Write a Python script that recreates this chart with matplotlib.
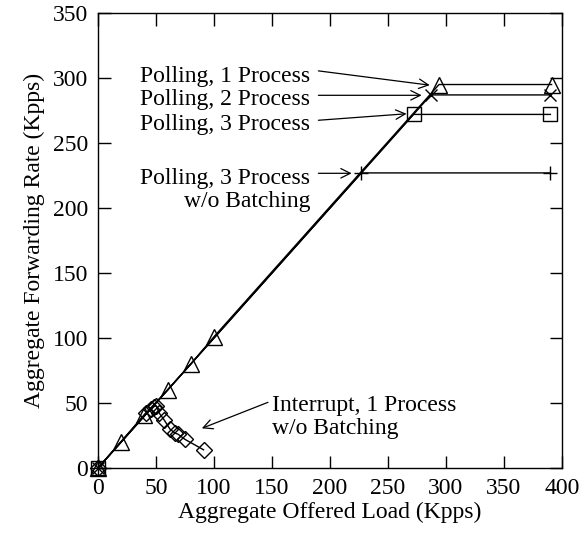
import matplotlib
matplotlib.use("Agg")
import matplotlib.pyplot as plt

# offered load vs forwarding rate (Kpps)
poll1_x = [0, 20, 40, 60, 80, 100, 294, 391]
poll1_y = [0, 20, 41, 60, 80, 101, 295, 295]

poll2_x = [0, 287, 390]
poll2_y = [0, 287, 287]

poll3_x = [0, 272, 390]
poll3_y = [0, 272, 272]

poll3nb_x = [0, 227, 390]
poll3nb_y = [0, 227, 227]

intr_x = [0, 41, 46, 48, 50, 53, 57, 62, 66, 69, 75, 91]
intr_y = [0, 42, 45, 47, 48, 42, 37, 30, 27, 26, 22, 14]

x_ticks = [0, 50, 100, 150, 200, 250, 300, 350, 400]
y_ticks = [0, 50, 100, 150, 200, 250, 300, 350]

plt.rcParams["font.family"] = ["Liberation Serif", "DejaVu Serif"]
plt.rcParams["font.size"] = 17

fig = plt.figure(figsize=(5.84, 5.36), dpi=100)
ax = fig.add_axes([0.1678, 0.1269, 0.7945, 0.8488])

mk = dict(color="black", markerfacecolor="none", markeredgecolor="black",
          markeredgewidth=1.0, clip_on=False)
ax.plot(poll1_x, poll1_y, marker="^", markersize=12, linewidth=1.0, **mk)
ax.plot(poll2_x, poll2_y, marker="x", markersize=9, linewidth=1.0, **mk)
ax.plot(poll3_x, poll3_y, marker="s", markersize=9.5, linewidth=1.0, **mk)
ax.plot(poll3nb_x, poll3nb_y, marker="+", markersize=10, linewidth=1.0, **mk)
ax.plot(intr_x, intr_y, marker="D", markersize=8, linewidth=1.0, **mk)

ax.set_xlim(0, 400)
ax.set_ylim(0, 350)
ax.set_xticks(x_ticks)
ax.set_yticks(y_ticks)
ax.tick_params(direction="in", length=9, width=1, top=True, right=True,
               labelsize=17, pad=7)
for s in ax.spines.values():
    s.set_linewidth(1.0)
ax.set_xlabel("Aggregate Offered Load (Kpps)", fontsize=17, labelpad=2)
ax.set_ylabel("Aggregate Forwarding Rate (Kpps)", fontsize=17, labelpad=6)

arrow = dict(arrowstyle="->", color="black", lw=0.9, shrinkA=0, shrinkB=0)

ax.text(183, 301, "Polling, 1 Process", ha="right", va="center")
ax.annotate("", xy=(286, 294.5), xytext=(190, 305.5), arrowprops=arrow)

ax.text(183, 283.5, "Polling, 2 Process", ha="right", va="center")
ax.annotate("", xy=(279, 286.7), xytext=(190, 286.7), arrowprops=arrow)

ax.text(183, 264, "Polling, 3 Process", ha="right", va="center")
ax.annotate("", xy=(266, 272.5), xytext=(190, 267.5), arrowprops=arrow)

ax.text(183, 214, "Polling, 3 Process\nw/o Batching", ha="right", va="center",
        multialignment="right", linespacing=1.1)
ax.annotate("", xy=(218.7, 226.7), xytext=(190, 226.7), arrowprops=arrow)

ax.text(150, 39, "Interrupt, 1 Process\nw/o Batching", ha="left", va="center",
        linespacing=1.1)
ax.annotate("", xy=(89.5, 30.5), xytext=(146.5, 50.5), arrowprops=arrow)

fig.savefig("out.png", dpi=100)
